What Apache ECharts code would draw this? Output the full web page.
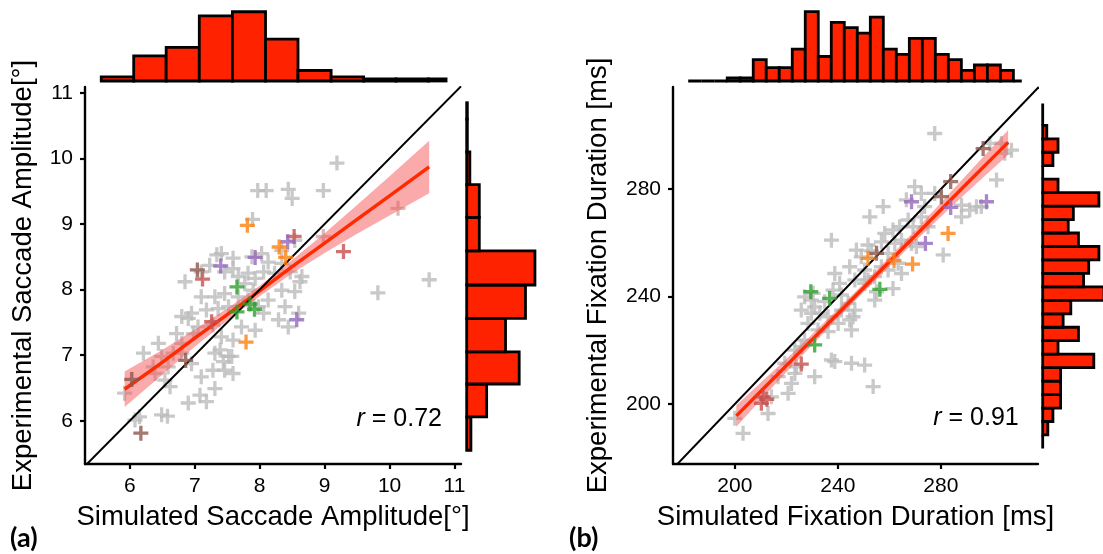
<!DOCTYPE html>
<html><head><meta charset="utf-8">
<script src="https://cdn.jsdelivr.net/npm/echarts@6/dist/echarts.min.js"></script>
<style>html,body{margin:0;padding:0;background:#fff}#c{width:1103px;height:554px}</style>
</head><body><div id="c"></div>
<script>
// ---------- DATA ----------
const aTicks = [6, 7, 8, 9, 10, 11];
const bTicks = [200, 240, 280];
const aRange = [5.31, 11.1];
const aRangeY = [5.34, 11.09];
const bRange = [176, 317.7];
const bRangeY = [177.7, 318];

const aGray = [[9.19,9.93],[7.97,9.51],[8.10,9.51],[8.44,9.53],[8.50,9.39],[8.98,9.51],[7.89,9.07],[10.61,8.15],[9.82,7.95],
[7.34,8.53],[7.23,8.37],[6.85,8.12],[7.10,8.27],[7.46,8.27],[7.59,8.32],[7.67,8.20],[7.82,8.25],[7.93,8.17],[8.06,8.27],[8.13,8.42],[8.34,8.40],[8.47,8.27],[8.62,8.12],[8.54,7.97],[8.60,7.64],[8.39,7.74],[8.29,7.54],[8.13,7.84],[8.06,7.64],[7.93,7.38],[7.72,7.43],[7.59,7.23],[7.41,7.28],[7.28,7.46],[7.10,7.89],[7.31,7.89],[7.46,7.94],[7.52,7.74],[7.36,7.71],[7.18,7.69],[6.95,7.64],[6.90,7.56],[6.80,7.59],[7.05,7.43],[6.72,7.33],[6.44,7.18],[6.21,7.03],[6.49,6.98],[6.67,7.03],[6.59,6.82],[6.36,6.82],[6.39,6.72],[6.54,6.62],[6.62,6.52],[5.92,6.42],[6.15,6.06],[6.49,6.09],[6.58,6.07],[6.90,6.27],[7.08,6.39],[7.18,6.29],[7.31,6.49],[7.10,6.67],[7.28,6.77],[7.46,6.77],[7.59,6.72],[7.52,6.98],[7.39,7.08],[7.57,6.98],[6.95,6.87],[6.80,7.03],[7.67,7.89],[7.82,7.84],[7.90,7.99],[7.77,8.09],[8.44,7.43],[7.98,7.74],[8.34,7.99],[6.98,7.33],[6.80,7.18],[6.08,6.01],[7.31,7.03],[7.44,6.90],[7.88,8.50],[8.03,8.55],[7.59,8.48],[7.41,8.55],[8.54,8.75],[8.34,8.60],[8.23,8.25],[8.65,8.20]];
const aLight = [[10.13,9.24],[8.98,8.81]];
const aOrange = [[7.81,8.98],[8.30,8.65],[8.40,8.49],[7.79,7.20]];
const aPurple = [[8.43,8.73],[7.93,8.49],[7.40,8.36],[8.57,7.54]];
const aRed = [[8.53,8.81],[9.29,8.58],[7.12,8.16],[7.26,7.51]];
const aBrown = [[7.04,8.30],[6.86,6.92],[6.03,6.63],[6.17,5.81]];
const aGreen = [[7.65,8.04],[7.65,7.66],[7.85,7.78],[7.92,7.70]];

const aFitX = [5.92, 6.5, 7, 7.5, 8, 8.5, 9, 9.5, 10, 10.61];
const aFit = [6.48, 6.89, 7.26, 7.62, 7.98, 8.35, 8.71, 9.07, 9.43, 9.87];
const aLo = [6.21, 6.70, 7.13, 7.53, 7.90, 8.25, 8.56, 8.85, 9.13, 9.47];
const aHi = [6.75, 7.08, 7.39, 7.71, 8.06, 8.45, 8.86, 9.29, 9.73, 10.27];

const aTopEdges = [5.56, 6.06, 6.56, 7.07, 7.58, 8.09, 8.59, 9.10, 9.60, 10.10, 10.60, 10.87];
const aTopCounts = [2, 12, 16, 31, 33, 20, 5, 2, 1, 1, 1];
const aRightEdges = [5.55, 6.06, 6.56, 7.05, 7.56, 8.07, 8.59, 9.10, 9.60, 10.10, 10.60, 10.85];
const aRightCounts = [2, 9.5, 25, 18.5, 28, 32.5, 6, 6, 1.5, 0.3, 0.3];

const bGray = [[277.6,300.7],[301.6,283.4],[304.8,293.3],[299.0,297.0],[291.2,272.2],[293.8,273.4],[288.0,274.0],[269.8,280.9],[266.6,276.0],[257.6,273.5],[252.4,269.7],[237.5,261.0],[277.6,278.4],[272.4,269.7],[275.0,266.0],[269.2,266.0],[264.7,261.0],[262.1,259.8],[256.9,260.4],[253.0,257.0],[247.2,257.3],[249.1,254.8],[244.6,251.1],[238.8,248.6],[250.4,249.9],[256.9,251.1],[259.5,249.9],[264.7,248.6],[261.4,243.0],[254.3,238.7],[255.0,241.8],[280.9,255.5],[231.0,236.2],[227.1,239.9],[233.0,233.8],[236.2,232.5],[241.4,235.0],[244.6,231.3],[245.3,227.6],[240.1,230.0],[236.2,227.0],[232.3,227.6],[228.4,230.0],[227.1,223.8],[237.5,216.4],[238.8,215.8],[245.3,215.2],[250.4,214.5],[253.7,206.5],[231.0,210.2],[223.3,211.4],[223.9,213.9],[219.4,215.2],[216.8,210.2],[222.0,207.7],[220.7,204.0],[212.9,196.5],[200.0,194.7],[203.2,189.1],[214.2,202.7],[244.0,237.5],[246.6,235.0],[240.7,244.9],[238.1,242.4],[229.7,233.8],[234.9,238.1],[250.4,244.9],[259.5,256.1],[263.4,252.4],[270.5,258.6],[268.6,259.8],[246.6,246.2],[251.7,246.2],[254.3,247.4],[267.3,268.5],[273.7,273.5],[264.0,266.0],[251.7,259.2],[258.2,263.5],[261.4,264.8],[241.4,240.6],[245.9,232.5],[225.8,235.0],[229.7,238.7],[230.4,241.2],[223.3,220.1],[225.8,221.4],[295.7,273.5],[307.4,294.5],[303.5,297.0],[288.0,269.7],[272.4,278.4]];
const bBrown = [[296.4,295.1],[283.8,282.8],[280.2,277.2],[255.0,256.1]];
const bPurple = [[268.6,275.3],[283.8,273.2],[297.7,275.3],[274.0,259.8]];
const bOrange = [[282.8,263.5],[251.7,254.2],[261.8,253.4],[269.0,252.1]];
const bGreen = [[229.5,241.8],[236.8,239.3],[256.3,242.7],[231.0,222.0]];
const bRed = [[225.8,214.9],[211.0,202.7],[210.3,200.3],[212.4,201.8]];

const bFitX = [200.6, 210, 220, 230, 240, 250, 260, 270, 280, 290, 306.1];
const bFit = [195.6, 204.7, 214.3, 224.0, 233.6, 243.3, 253.0, 262.6, 272.3, 282.0, 297.4];
const bLo = [191.6, 201.5, 211.8, 222.0, 231.9, 241.7, 251.3, 260.6, 269.7, 278.7, 292.8];
const bHi = [199.6, 207.9, 216.8, 226.0, 235.3, 244.9, 254.7, 264.6, 274.9, 285.3, 302.0];

const bTopEdges = [181.9,186.95,192.0,197.05,202.1,207.15,212.2,217.25,222.3,227.35,232.4,237.45,242.5,247.55,252.6,257.65,262.7,267.75,272.8,277.85,282.9,287.95,293.0,298.05,303.1,308.15,311.4];
const bTopCounts = [0,0,0,0.6,0.6,4,2.5,2.5,6,13,4.6,11,10,9,12,6,5,8,8,5,4,2,3,3,2,0];
const bRightEdges = [183.5,188.51,193.52,198.53,203.54,208.55,213.56,218.57,223.58,228.59,233.6,238.61,243.62,248.63,253.64,258.65,263.66,268.67,273.68,278.69,283.7,288.71,293.72,298.73,303.74,311.9];
const bRightCounts = [0,1,2,3.5,3.5,3.5,10,3,7,4,5.5,12,8,9,11,7,5,6,11,3,0,2,3,0.8,0];

// ---------- STYLE / LAYOUT ----------
const FONT = 'Liberation Sans, Arial, Helvetica, sans-serif';
const PLUS = 'path://M3.9,0H6.1V3.9H10V6.1H6.1V10H3.9V6.1H0V3.9H3.9Z';
const HIST_FILL = '#ff2200';
const C = {gray:'#bcbcbc', light:'#cfa9a9', orange:'#ff7f0e', purple:'#9467bd', red:'#c4504e', brown:'#8c564b', green:'#2ca02c'};

function hist(edges, counts) { return counts.map((c, i) => [edges[i], edges[i + 1], c]); }

function histRender(horizontal) {
  return function (params, api) {
    const a = api.value(0), b = api.value(1), c = api.value(2);
    let p0, p1;
    if (!horizontal) { p0 = api.coord([a, 0]); p1 = api.coord([b, c]); }
    else { p0 = api.coord([0, a]); p1 = api.coord([c, b]); }
    return {type: 'rect',
      shape: {x: Math.min(p0[0], p1[0]), y: Math.min(p0[1], p1[1]), width: Math.abs(p1[0] - p0[0]), height: Math.abs(p1[1] - p0[1])},
      style: {fill: HIST_FILL, stroke: '#000', lineWidth: 2.8}};
  };
}
function bandRender(xs, lo, hi) {
  return function (params, api) {
    const pts = [];
    for (let i = 0; i < xs.length; i++) pts.push(api.coord([xs[i], hi[i]]));
    for (let i = xs.length - 1; i >= 0; i--) pts.push(api.coord([xs[i], lo[i]]));
    return {type: 'polygon', shape: {points: pts}, style: {fill: 'rgba(245,85,85,0.5)'}};
  };
}
function mainAxis(gi, range, ticks, name, gap) {
  return {gridIndex: gi, type: 'value', min: range[0], max: range[1],
    name: name, nameLocation: 'middle', nameGap: gap,
    nameTextStyle: {fontSize: 27.5, color: '#000', fontFamily: FONT},
    axisLine: {show: true, onZero: false, lineStyle: {color: '#000', width: 2.4}},
    axisTick: {show: true, customValues: ticks, length: 5, lineStyle: {color: '#000', width: 2.2}},
    axisLabel: {customValues: ticks, fontSize: 21, color: '#000', margin: 12, fontFamily: FONT},
    splitLine: {show: false}};
}
function hidden(gi, min, max) { return {gridIndex: gi, type: 'value', min: min, max: max, show: false, splitLine: {show: false}}; }
function pts(xi, data, color, z) {
  return {type: 'scatter', xAxisIndex: xi, yAxisIndex: xi, data: data, symbol: PLUS, symbolSize: 15,
    itemStyle: {color: color}, silent: true, z: z};
}

const option = {
  animation: false,
  backgroundColor: '#fff',
  grid: [
    {left: 85, top: 87, width: 376, height: 377},
    {left: 85, top: 0, width: 376, height: 81},
    {left: 466.7, top: 87, width: 80, height: 377},
    {left: 673, top: 87, width: 365, height: 377},
    {left: 673, top: 0, width: 365, height: 81},
    {left: 1042.7, top: 87, width: 60.3, height: 377}
  ],
  xAxis: [
    mainAxis(0, aRange, aTicks, 'Simulated Saccade Amplitude[°]', 39),
    hidden(1, aRange[0], aRange[1]),
    hidden(2, 0, 38.1),
    mainAxis(3, bRange, bTicks, 'Simulated Fixation Duration [ms]', 39),
    hidden(4, bRange[0], bRange[1]),
    hidden(5, 0, 11.8)
  ],
  yAxis: [
    mainAxis(0, aRangeY, aTicks, 'Experimental Saccade Amplitude[°]', 48),
    hidden(1, 0, 38.6),
    hidden(2, aRangeY[0], aRangeY[1]),
    mainAxis(3, bRangeY, bTicks, 'Experimental Fixation Duration [ms]', 61),
    hidden(4, 0, 15.2),
    hidden(5, bRangeY[0], bRangeY[1])
  ],
  series: [
    pts(0, aGray, C.gray, 2),
    pts(0, aLight, C.light, 2),
    {type: 'custom', xAxisIndex: 0, yAxisIndex: 0, renderItem: bandRender(aFitX, aLo, aHi), data: [[aFitX[0], aLo[0]]], z: 3, silent: true},
    {type: 'line', xAxisIndex: 0, yAxisIndex: 0, data: aFitX.map((x, i) => [x, aFit[i]]), showSymbol: false, lineStyle: {color: '#ff2a00', width: 3.4}, z: 4, silent: true},
    {type: 'line', xAxisIndex: 0, yAxisIndex: 0, data: [[aRange[0], aRange[0]], [aRange[1], aRange[1]]], showSymbol: false, lineStyle: {color: '#000', width: 2}, z: 5, silent: true},
    pts(0, aRed, C.red, 6), pts(0, aBrown, C.brown, 6), pts(0, aPurple, C.purple, 6), pts(0, aOrange, C.orange, 6), pts(0, aGreen, C.green, 6),
    {type: 'custom', xAxisIndex: 1, yAxisIndex: 1, renderItem: histRender(false), encode: {x: [0, 1], y: 2}, data: hist(aTopEdges, aTopCounts), silent: true},
    {type: 'custom', xAxisIndex: 2, yAxisIndex: 2, renderItem: histRender(true), encode: {x: 2, y: [0, 1]}, data: hist(aRightEdges, aRightCounts), silent: true},

    pts(3, bGray, C.gray, 2),
    {type: 'custom', xAxisIndex: 3, yAxisIndex: 3, renderItem: bandRender(bFitX, bLo, bHi), data: [[bFitX[0], bLo[0]]], z: 3, silent: true},
    {type: 'line', xAxisIndex: 3, yAxisIndex: 3, data: bFitX.map((x, i) => [x, bFit[i]]), showSymbol: false, lineStyle: {color: '#ff2a00', width: 3.4}, z: 4, silent: true},
    {type: 'line', xAxisIndex: 3, yAxisIndex: 3, data: [[bRange[0], bRange[0]], [bRangeY[1], bRangeY[1]]], showSymbol: false, lineStyle: {color: '#000', width: 2}, z: 5, silent: true},
    pts(3, bRed, C.red, 6), pts(3, bBrown, C.brown, 6), pts(3, bPurple, C.purple, 6), pts(3, bOrange, C.orange, 6), pts(3, bGreen, C.green, 6),
    {type: 'custom', xAxisIndex: 4, yAxisIndex: 4, renderItem: histRender(false), encode: {x: [0, 1], y: 2}, data: hist(bTopEdges, bTopCounts), silent: true},
    {type: 'custom', xAxisIndex: 5, yAxisIndex: 5, renderItem: histRender(true), encode: {x: 2, y: [0, 1]}, data: hist(bRightEdges, bRightCounts), silent: true}
  ],
  graphic: [
    {type: 'text', x: 442, y: 419, z: 10, style: {text: '{i|r} = 0.72', rich: {i: {fontStyle: 'italic', fontSize: 25, fontFamily: FONT}}, fontSize: 25, fontFamily: FONT, fill: '#000', align: 'right', verticalAlign: 'middle'}},
    {type: 'text', x: 1018.7, y: 418, z: 10, style: {text: '{i|r} = 0.91', rich: {i: {fontStyle: 'italic', fontSize: 25, fontFamily: FONT}}, fontSize: 25, fontFamily: FONT, fill: '#000', align: 'right', verticalAlign: 'middle'}},
    {type: 'text', x: 10, y: 538, z: 10, style: {text: '(a)', font: 'bold 27px Lato, "Open Sans", sans-serif', fill: '#000', verticalAlign: 'middle'}},
    {type: 'text', x: 569, y: 538, z: 10, style: {text: '(b)', font: 'bold 27px Lato, "Open Sans", sans-serif', fill: '#000', verticalAlign: 'middle'}}
  ]
};
const chart = echarts.init(document.getElementById('c'));
chart.setOption(option);
</script></body></html>
